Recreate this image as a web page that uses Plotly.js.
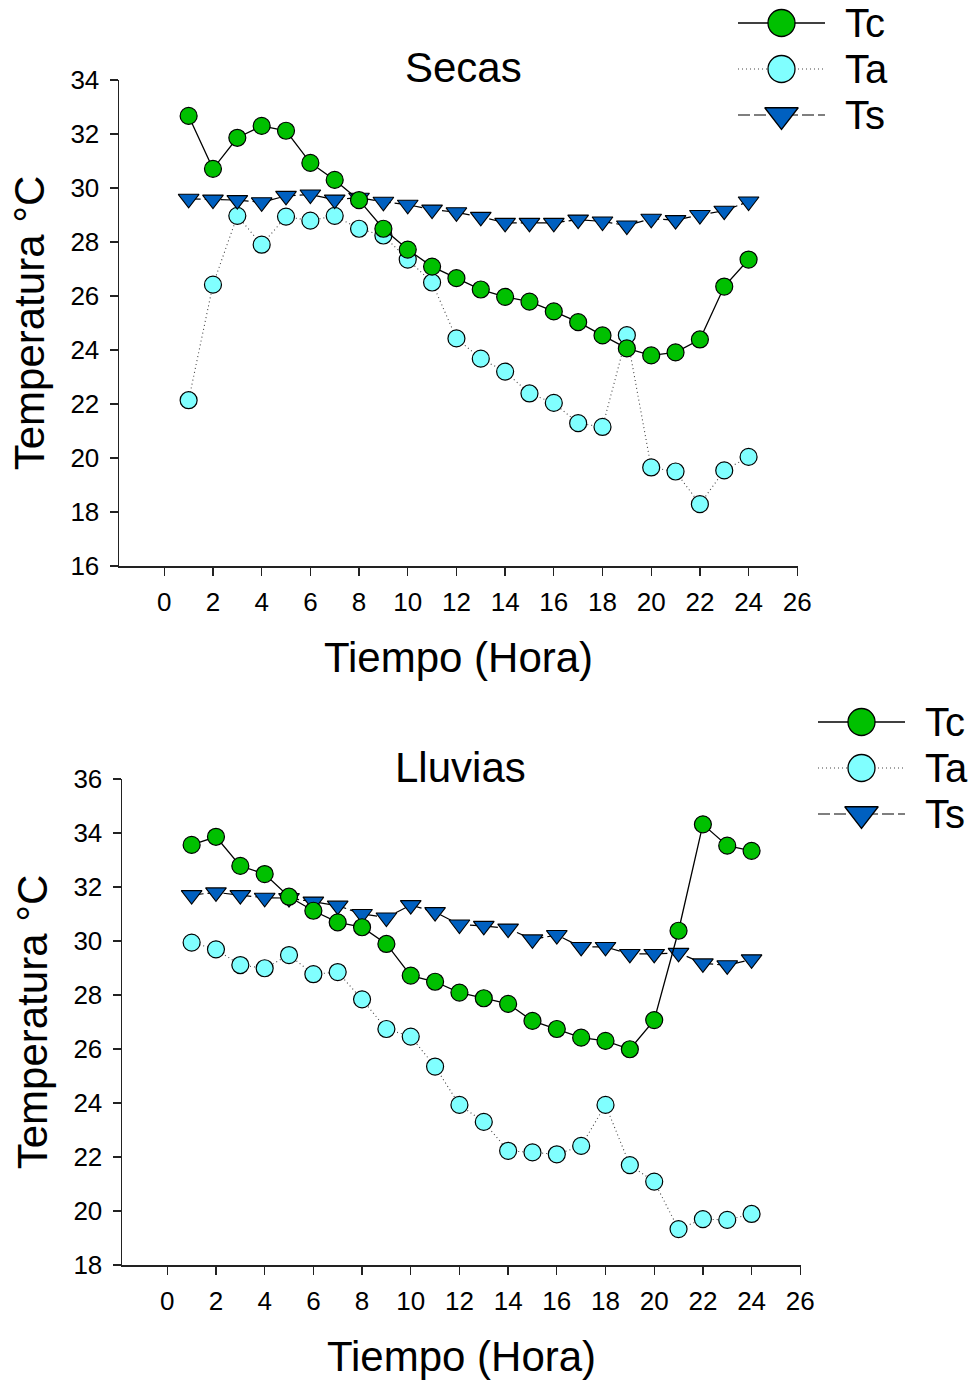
<!DOCTYPE html>
<html>
<head>
<meta charset="utf-8">
<script src="https://cdn.plot.ly/plotly-3.0.1.min.js"></script>
<style>html,body{margin:0;padding:0;background:#fff;}#chart{width:976px;height:1382px;}</style>
</head>
<body>
<div id="chart"></div>
<script>
// ---------------- data ----------------
const hours = [1,2,3,4,5,6,7,8,9,10,11,12,13,14,15,16,17,18,19,20,21,22,23,24];

// Secas
const secasTc = [32.67,30.71,31.86,32.30,32.12,30.93,30.30,29.55,28.49,27.72,27.09,26.66,26.24,25.97,25.79,25.43,25.03,24.54,24.06,23.80,23.91,24.39,26.35,27.35];
const secasTa = [22.14,26.42,28.97,27.90,28.94,28.79,28.97,28.49,28.24,27.35,26.50,24.43,23.68,23.20,22.39,22.04,21.29,21.15,24.55,19.65,19.50,18.29,19.54,20.04];
const secasTs = [29.60,29.57,29.55,29.47,29.71,29.76,29.57,29.64,29.49,29.38,29.20,29.10,28.93,28.71,28.71,28.71,28.83,28.76,28.61,28.86,28.81,29.00,29.16,29.50];

// Lluvias
const lluviasTc = [33.56,33.86,32.78,32.48,31.64,31.12,30.69,30.51,29.89,28.72,28.49,28.09,27.88,27.67,27.04,26.74,26.42,26.30,25.99,27.07,30.38,34.32,33.53,33.34];
const lluviasTa = [29.94,29.69,29.11,28.99,29.48,28.77,28.85,27.84,26.74,26.46,25.35,23.93,23.30,22.23,22.17,22.10,22.41,23.93,21.70,21.09,19.33,19.70,19.67,19.89];
const lluviasTs = [31.70,31.80,31.70,31.60,31.59,31.46,31.31,31.00,30.87,31.33,31.07,30.61,30.56,30.46,30.06,30.22,29.78,29.78,29.52,29.52,29.56,29.17,29.10,29.32];

const seriesNames = ['Tc','Ta','Ts'];
const panelTitles = ['Secas','Lluvias'];
const xTitle = 'Tiempo (Hora)';
const yTitle = 'Temperatura °C';

// ---------------- styles ----------------
const W = 976, H = 1382;
const FONT = 'Liberation Sans, Arial, sans-serif';
const styles = {
  Tc: {line:{color:'#000000', width:1.3, dash:'solid'}, marker:{symbol:'circle', color:'#00C000', size:17, line:{color:'#000000', width:1.2}}},
  Ta: {line:{color:'#444444', width:1.1, dash:'1px,3px'}, marker:{symbol:'circle', color:'#80FFFF', size:17, line:{color:'#000000', width:1.2}}},
  Ts: {line:{color:'#000000', width:1.2, dash:'12px,4px'}, marker:{symbol:'triangle-down', color:'#0060C0', size:18, line:{color:'#000000', width:1.1}}}
};

function px2x(p){ return p / W; }
function px2y(p){ return 1 - p / H; }

const panels = [
  {xa:'x', ya:'y', data:{Tc:secasTc, Ta:secasTa, Ts:secasTs}},
  {xa:'x2', ya:'y2', data:{Tc:lluviasTc, Ta:lluviasTa, Ts:lluviasTs}}
];

const traces = [];
panels.forEach(p => {
  ['Ta','Ts','Tc'].forEach(name => {
    const s = styles[name];
    traces.push({
      type:'scatter', mode:'lines+markers', name:name,
      x:hours, y:p.data[name], xaxis:p.xa, yaxis:p.ya,
      line:s.line, marker:s.marker, showlegend:false, cliponaxis:false, hoverinfo:'x+y+name'
    });
  });
});

// legend keys drawn on hidden helper axes (layout only)
const legendRows = [0,1,2];
const legendBoxes = [
  {xa:'x3', ya:'y3', left:738, right:825, top:0, bottom:138},
  {xa:'x4', ya:'y4', left:818, right:905, top:699, bottom:837}
];
const annotations = [];
legendBoxes.forEach(b => {
  seriesNames.forEach((name, i) => {
    const s = styles[name];
    traces.push({type:'scatter', mode:'lines', x:[0,1], y:[legendRows[i],legendRows[i]], xaxis:b.xa, yaxis:b.ya,
      line:s.line, showlegend:false, hoverinfo:'skip'});
    traces.push({type:'scatter', mode:'markers', x:[0.5], y:[legendRows[i]], xaxis:b.xa, yaxis:b.ya,
      marker:Object.assign({}, s.marker, {size: name==='Ts' ? 29 : 27, line:{color:'#000', width:1.3}}),
      showlegend:false, hoverinfo:'skip', cliponaxis:false});
    annotations.push({xref:b.xa, yref:b.ya, x:1, y:legendRows[i], xshift:18, xanchor:'left', yanchor:'middle',
      text:name, showarrow:false, font:{family:FONT, size:40, color:'#000'}});
  });
});

// panel titles
annotations.push({xref:'paper', yref:'paper', x:px2x(463), y:px2y(67), xanchor:'center', yanchor:'middle',
  text:panelTitles[0], showarrow:false, font:{family:FONT, size:42, color:'#000'}});
annotations.push({xref:'paper', yref:'paper', x:px2x(460), y:px2y(767), xanchor:'center', yanchor:'middle',
  text:panelTitles[1], showarrow:false, font:{family:FONT, size:42, color:'#000'}});

function xAxis(l, r){
  return {domain:[px2x(l), px2x(r)], range:[-1.86, 26.03], tickmode:'linear', tick0:0, dtick:2,
    ticks:'outside', ticklen:8, tickwidth:1.3, tickcolor:'#222', showline:true, linecolor:'#222', linewidth:1.5,
    showgrid:false, zeroline:false, automargin:false, ticklabelstandoff:4,
    tickfont:{family:FONT, size:26, color:'#000'},
    title:{text:xTitle, font:{family:FONT, size:42, color:'#000'}, standoff:27}};
}
function yAxis(t, b, lo, hi){
  return {domain:[px2y(b), px2y(t)], range:[lo, hi], tickmode:'linear', tick0:lo, dtick:2,
    ticks:'outside', ticklen:8, tickwidth:1.3, tickcolor:'#222', showline:true, linecolor:'#222', linewidth:1.5,
    showgrid:false, zeroline:false, automargin:false, ticklabelstandoff:5,
    tickfont:{family:FONT, size:26, color:'#000'},
    title:{text:yTitle, font:{family:FONT, size:42, color:'#000'}, standoff:12}};
}
function hidden(domain, range){
  return {domain:domain, range:range, visible:false, fixedrange:true, showgrid:false, zeroline:false};
}

const layout = {
  width:W, height:H, margin:{l:0, r:0, t:0, b:0, pad:0},
  paper_bgcolor:'#fff', plot_bgcolor:'rgba(0,0,0,0)', showlegend:false,
  font:{family:FONT, color:'#000'},
  xaxis: Object.assign(xAxis(119, 798), {anchor:'y'}),
  yaxis: Object.assign(yAxis(80, 566, 16, 34), {anchor:'x'}),
  xaxis2: Object.assign(xAxis(122, 801), {anchor:'y2'}),
  yaxis2: Object.assign(yAxis(779, 1265, 18, 36), {anchor:'x2'}),
  xaxis3: Object.assign(hidden([px2x(738), px2x(825)], [0,1]), {anchor:'y3'}),
  yaxis3: Object.assign(hidden([px2y(138), px2y(0)], [2.5,-0.5]), {anchor:'x3'}),
  xaxis4: Object.assign(hidden([px2x(818), px2x(905)], [0,1]), {anchor:'y4'}),
  yaxis4: Object.assign(hidden([px2y(837), px2y(699)], [2.5,-0.5]), {anchor:'x4'}),
  annotations: annotations
};

Plotly.newPlot('chart', traces, layout, {displayModeBar:false, staticPlot:true});
</script>
</body>
</html>
